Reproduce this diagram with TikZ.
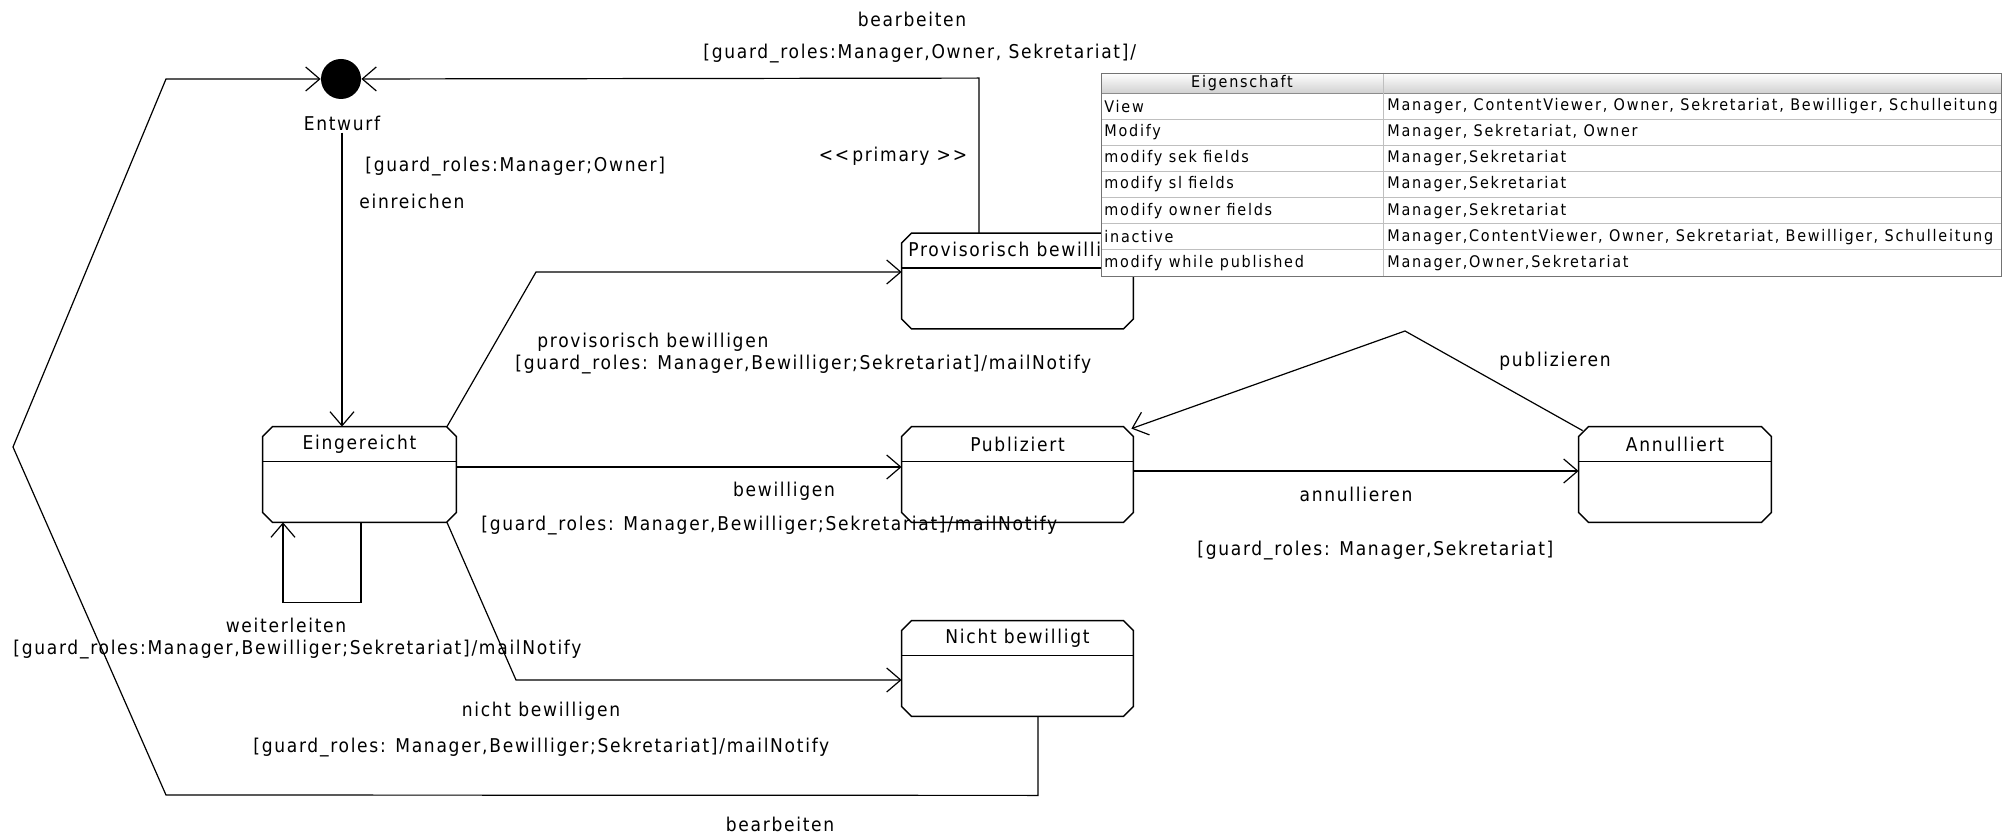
\documentclass[tikz,border=0pt]{standalone}
\usepackage{fontspec}
\setmainfont{DejaVu Sans Condensed}
\newfontfamily\lblfont[LetterSpace=9]{DejaVu Sans Condensed}
\newfontfamily\cellfont[LetterSpace=11]{DejaVu Sans Condensed}
\usetikzlibrary{arrows.meta}

\tikzset{
	state/.style={rectangle, inner sep=0pt, minimum height=47.5pt},
	lbl/.style={font=\lblfont\fontsize{9.5}{11}\selectfont, inner sep=1pt},
	trans/.style={line width=0.6pt, -{Straight Barb[length=7pt,width=12pt]}},
	cell/.style={font=\cellfont\fontsize{8}{9}\selectfont, inner sep=0pt, anchor=west}
}
% chamfered frame with header line
\newcommand{\stateframe}[1]{
	\draw[line width=0.7pt] ([xshift=5pt]#1.north west) -- ([xshift=-5pt]#1.north east) -- ([yshift=-5pt]#1.north east)
		-- ([yshift=5pt]#1.south east) -- ([xshift=-5pt]#1.south east) -- ([xshift=5pt]#1.south west)
		-- ([yshift=5pt]#1.south west) -- ([yshift=-5pt]#1.north west) -- cycle;
	\draw[line width=0.7pt] ([yshift=-17.5pt]#1.north west) -- ([yshift=-17.5pt]#1.north east);
}

\begin{document}
\begin{tikzpicture}[x=0.5pt, y=-0.5pt]
	\useasboundingbox (0,0) rectangle (2003,834);
	% states
	\node[circle, fill=black, inner sep=0pt, minimum size=20pt] (entwurf) at (341,79) {};
	\node[lbl] (entwurflbl) at (342,123) {Entwurf};
	\node[state, minimum width=96.5pt] (eing) at (359.5,474.5) {};
	\node[state, minimum width=115.5pt] (prov) at (1017.5,281) {};
	\node[state, minimum width=115.5pt] (pub) at (1017.5,474.5) {};
	\node[state, minimum width=115.5pt] (nicht) at (1017.5,668.5) {};
	\node[state, minimum width=96pt] (annul) at (1675,474.5) {};
	\node[lbl] (eingt) at (359.5,444) {Eingereicht};
	\node[lbl, anchor=west] (provt) at (906,251) {Provisorisch bewilligt};
	\node[lbl] (pubt) at (1017.5,444) {Publiziert};
	\node[lbl] (nichtt) at (1017.5,638) {Nicht bewilligt};
	\node[lbl] (annult) at (1675,444) {Annulliert};
	\stateframe{eing}
	\stateframe{prov}
	\stateframe{pub}
	\stateframe{nicht}
	\stateframe{annul}

	% transitions
	\draw[trans] (entwurflbl.south) -- (entwurflbl.south |- eing.north);
	\draw[trans] ([xshift=43.75pt]eing.north) -- (536,272) -- ([yshift=4.5pt]prov.west);
	\draw[trans] ([yshift=3.75pt]eing.east) -- ([yshift=3.75pt]pub.west);
	\draw[trans] ([xshift=43.75pt]eing.south) -- (516,680) -- ([yshift=-5.75pt]nicht.west);
	\draw[trans] ([xshift=0.75pt]eing.south) -- ++(0,80) -- ++(-78,0) -- ([xshift=-38.25pt]eing.south);
	\draw[trans] ([yshift=1.75pt]pub.east) -- ([yshift=1.75pt]annul.west);
	\draw[trans] ([xshift=2pt,yshift=-2pt]annul.north west) -- (1405,331) -- ([xshift=-1pt,yshift=-1pt]pub.north east);
	\draw[trans] ([xshift=-19.25pt]prov.north) -- ++(0,-155) -- (entwurf);
	\draw[trans] ([xshift=10.25pt]nicht.south) -- ++(0,79) -- (166,795) -- (13,447) -- (166,79) -- (entwurf);

	% labels
	\node[lbl] (l1) at (912,19) {bearbeiten};
	\node[lbl, anchor=west] (l2) at (701,54) {[guard\_roles:Manager,Owner, Sekretariat]/};
	\node[lbl] (l3) at (893,156) {{<}{<}\,primary {>}{>}};
	\node[lbl, anchor=west] (l4) at (363,167) {[guard\_roles:Manager;Owner]};
	\node[lbl, anchor=west] (l5) at (357,201) {einreichen};
	\node[lbl, anchor=west] (l6) at (535,342) {provisorisch bewilligen};
	\node[lbl, anchor=west] (l7) at (513,365) {[guard\_roles: Manager,Bewilliger;Sekretariat]/mailNotify};
	\node[lbl] (l8) at (784,491) {bewilligen};
	\node[lbl, anchor=west] (l9) at (479,526) {[guard\_roles: Manager,Bewilliger;Sekretariat]/mailNotify};
	\node[lbl] (l10) at (286,625) {weiterleiten};
	\node[lbl, anchor=west] (l11) at (11,650) {[guard\_roles:Manager,Bewilliger;Sekretariat]/mailNotify};
	\node[lbl] (l12) at (541,711) {nicht bewilligen};
	\node[lbl, anchor=west] (l13) at (251,748) {[guard\_roles: Manager,Bewilliger;Sekretariat]/mailNotify};
	\node[lbl] (l14) at (780,824) {bearbeiten};
	\node[lbl] (l15) at (1555,361) {publizieren};
	\node[lbl] (l16) at (1356,494) {annullieren};
	\node[lbl, anchor=west] (l17) at (1195,551) {[guard\_roles: Manager,Sekretariat]};

	% property table
	\fill[white] (1101,73) rectangle (2001,276);
	\shade[top color=white, bottom color=black!18] (1101,73) rectangle (2001,93);
	\foreach \i/\prop/\roles in {1/View/{Manager, ContentViewer, Owner, Sekretariat, Bewilliger, Schulleitung},
		2/Modify/{Manager, Sekretariat, Owner},
		3/modify sek fields/{Manager,Sekretariat},
		4/modify sl fields/{Manager,Sekretariat},
		5/modify owner fields/{Manager,Sekretariat},
		6/inactive/{Manager,ContentViewer, Owner, Sekretariat, Bewilliger, Schulleitung},
		7/modify while published/{Manager,Owner,Sekretariat}} {
		\draw[black!25] (1101,93+26.14*\i) -- (2001,93+26.14*\i);
		\node[cell] (prop\i) at (1104,80+26.14*\i) {\prop};
		\node[cell] (roles\i) at (1387,80+26.14*\i) {\roles};
	}
	\draw[black!45] (1101,93) -- (2001,93);
	\draw[black!25] (1383,73) -- (1383,276);
	\draw[black!55] (1101,73) rectangle (2001,276);
	\node[cell, anchor=center] (eigen) at (1242,83) {Eigenschaft};
\end{tikzpicture}
\end{document}
